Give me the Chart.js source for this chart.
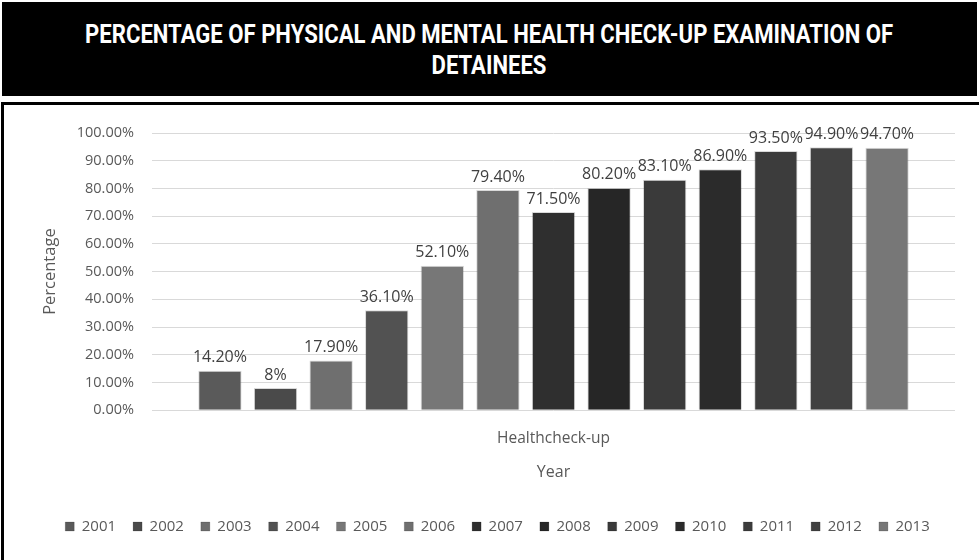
<!DOCTYPE html>
<html>
<head>
<meta charset="utf-8">
<script src="https://cdn.jsdelivr.net/npm/chart.js@4.4.0/dist/chart.umd.min.js"></script>
<style>
    html, body { margin: 0; padding: 0; background: #fff; }
    body { width: 979px; height: 560px; position: relative; overflow: hidden; }
    .header {
        position: absolute; left: 2px; top: 2px; width: 975px; height: 94px;
        background: #000; color: #fff; text-align: center;
        font-family: Roboto, 'Liberation Sans', sans-serif;
        font-weight: bold; font-size: 25px; line-height: 31px;
        box-sizing: border-box; padding-top: 17px;
    }
    .header span { display: inline-block; white-space: nowrap; transform-origin: center; }
    .frame {
        position: absolute; left: 1px; top: 102px; width: 978px; height: 458px;
        border-top: 3px solid #000; border-left: 3px solid #000; box-sizing: border-box;
    }
    .chart-box { position: absolute; left: 4px; top: 105px; width: 975px; height: 455px; }
</style>
</head>
<body>
<div class="header"><span id="line1">PERCENTAGE OF PHYSICAL AND MENTAL HEALTH CHECK-UP EXAMINATION OF</span><br><span id="line2">DETAINEES</span></div>
<div class="frame"></div>
<div class="chart-box"><canvas id="healthChart"></canvas></div>
<script>
const categories = ['Healthcheck-up'];
const years = ['2001', '2002', '2003', '2004', '2005', '2006', '2007', '2008', '2009', '2010', '2011', '2012', '2013'];
const percentages = [14.2, 8, 17.9, 36.1, 52.1, 79.4, 71.5, 80.2, 83.1, 86.9, 93.5, 94.9, 94.7];
const pointLabels = ['14.20%', '8%', '17.90%', '36.10%', '52.10%', '79.40%', '71.50%', '80.20%', '83.10%', '86.90%', '93.50%', '94.90%', '94.70%'];
const barColors = ['#5a5a5a', '#4a4a4a', '#6f6f6f', '#525252', '#777777', '#6f6f6f', '#2f2f2f',
    '#262626', '#3a3a3a', '#2b2b2b', '#3c3c3c', '#414141', '#777777'];

const fontFamily = '"Open Sans", Lato, sans-serif';

// the header font is condensed in the original, squeeze the lines to fit
function squeezeHeader() {
    const line1 = document.getElementById('line1');
    const line2 = document.getElementById('line2');
    const k = 808 / line1.getBoundingClientRect().width;
    line1.style.transform = 'scaleX(' + k + ')';
    line2.style.transform = 'scaleX(' + k + ')';
}

// draw the value above each bar
const barLabels = {
    id: 'barLabels',
    afterDatasetsDraw(chart) {
        const ctx = chart.ctx;
        ctx.save();
        ctx.font = '16px ' + fontFamily;
        ctx.fillStyle = '#404040';
        ctx.textAlign = 'center';
        ctx.textBaseline = 'bottom';
        chart.data.datasets.forEach((ds, i) => {
            const bar = chart.getDatasetMeta(i).data[0];
            ctx.fillText(pointLabels[i], bar.x, bar.y - 5);
        });
        ctx.restore();
    }
};

document.addEventListener('DOMContentLoaded', function () {
    squeezeHeader();

    const ctx = document.getElementById('healthChart').getContext('2d');

    new Chart(ctx, {
        type: 'bar',
        data: {
            labels: categories,
            datasets: years.map((year, i) => ({
                label: year,
                data: [percentages[i]],
                backgroundColor: barColors[i],
                borderColor: 'rgba(0,0,0,0.15)',
                borderWidth: 1,
                categoryPercentage: 0.9,
                barPercentage: 0.78
            }))
        },
        plugins: [barLabels],
        options: {
            responsive: true,
            maintainAspectRatio: false,
            animation: false,
            layout: {
                padding: { left: 36, right: 24, top: 28, bottom: 16 }
            },
            plugins: {
                legend: {
                    position: 'bottom',
                    labels: {
                        boxWidth: 9,
                        boxHeight: 9,
                        padding: 17,
                        color: '#595959',
                        font: { family: fontFamily, size: 15 }
                    }
                },
                tooltip: { enabled: false }
            },
            scales: {
                y: {
                    min: 0,
                    max: 100,
                    ticks: {
                        stepSize: 10,
                        padding: 18,
                        color: '#595959',
                        font: { family: fontFamily, size: 14.5 },
                        callback: (v) => v.toFixed(2) + '%'
                    },
                    grid: { color: '#d9d9d9', drawTicks: false },
                    border: { display: false },
                    title: {
                        display: true,
                        text: 'Percentage',
                        color: '#595959',
                        font: { family: fontFamily, size: 16.5 },
                        padding: 0
                    },
                    afterFit: (axis) => { axis.width = 112; }
                },
                x: {
                    ticks: {
                        padding: 19,
                        color: '#595959',
                        font: { family: fontFamily, size: 15.5 }
                    },
                    grid: { display: false, drawTicks: false },
                    border: { display: false },
                    title: {
                        display: true,
                        text: 'Year',
                        color: '#595959',
                        font: { family: fontFamily, size: 16 },
                        padding: { top: -4, bottom: 20 }
                    }
                }
            }
        }
    });
});
</script>
</body>
</html>
